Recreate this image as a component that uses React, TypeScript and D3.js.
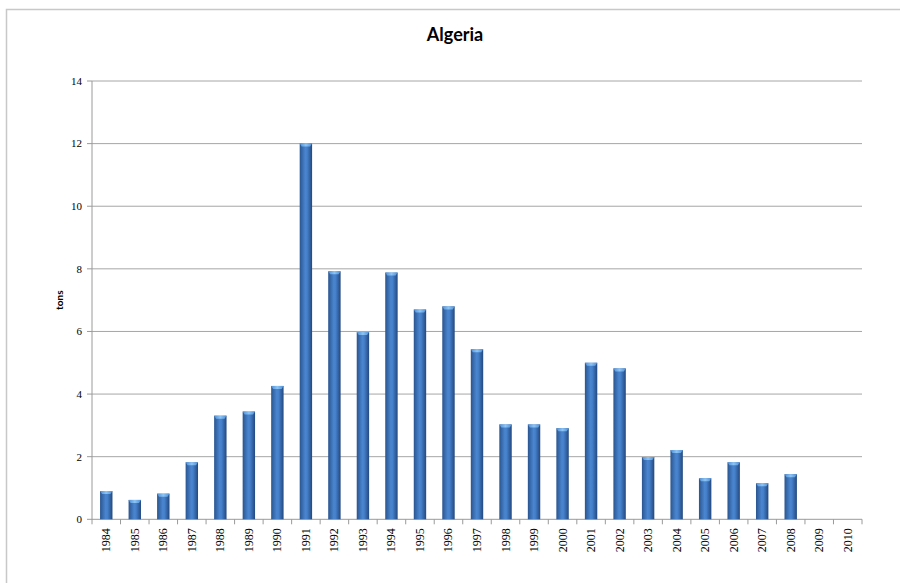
import React from "react";
import * as d3 from "d3";

const years = ["1984","1985","1986","1987","1988","1989","1990","1991","1992","1993","1994","1995","1996","1997","1998","1999","2000","2001","2002","2003","2004","2005","2006","2007","2008","2009","2010"];
const values: (number | null)[] = [0.9,0.62,0.82,1.82,3.31,3.44,4.26,12.0,7.92,5.98,7.88,6.7,6.8,5.43,3.03,3.03,2.91,5.0,4.82,1.99,2.21,1.31,1.82,1.15,1.44,null,null];
const yTicks = [0,2,4,6,8,10,12,14];
const title = "Algeria";
const yLabel = "tons";

export default function App() {
  const W = 900, H = 583;
  const left = 92, right = 862, top = 81, bottom = 519.3;
  const x = d3.scaleBand<string>().domain(years).range([left, right]).paddingInner(0.565).paddingOuter(0.2825);
  const xb = d3.scaleBand<string>().domain(years).range([left, right]);
  const y = d3.scaleLinear().domain([0, 14]).range([bottom, top]);
  const serif = "'Liberation Serif', 'DejaVu Serif', serif";
  return (
    <svg width={W} height={H} style={{ position: "absolute", left: 0, top: 0, background: "#fff" }}>
      <defs>
        <linearGradient id="barg" x1="0" x2="1" y1="0" y2="0">
          <stop offset="0" stopColor="#2a5590" />
          <stop offset="0.45" stopColor="#4a85cf" />
          <stop offset="0.6" stopColor="#4580ca" />
          <stop offset="1" stopColor="#23487e" />
        </linearGradient>
        <linearGradient id="capg" x1="0" x2="1" y1="0" y2="0">
          <stop offset="0" stopColor="#4f8fd6" />
          <stop offset="0.5" stopColor="#8cc4f4" />
          <stop offset="1" stopColor="#4f8fd6" />
        </linearGradient>
      </defs>
      <rect x={6.5} y={9.5} width={W} height={H} fill="#fff" stroke="#c8c8c8" strokeWidth={1.5} />
      <text x={455} y={41} textAnchor="middle" fontFamily="Lato, 'Open Sans', sans-serif" fontWeight="bold" fontSize={18} fill="#000">{title}</text>
      {yTicks.map((t) => (
        <g key={t}>
          {t > 0 && <line x1={left} x2={right} y1={y(t)} y2={y(t)} stroke="#a6a6a6" strokeWidth={1} />}
          <line x1={left - 5} x2={left} y1={y(t)} y2={y(t)} stroke="#9a9a9a" />
          <text x={left - 10} y={y(t)} dy="0.35em" textAnchor="end" fontFamily={serif} fontSize={11} fill="#000">{t}</text>
        </g>
      ))}
      <line x1={left} x2={left} y1={top} y2={bottom} stroke="#9a9a9a" />
      <line x1={left} x2={right} y1={bottom} y2={bottom} stroke="#9a9a9a" />
      {years.map((yr, i) => (
        <line key={"t" + yr} x1={xb(yr)!} x2={xb(yr)!} y1={bottom} y2={bottom + 5} stroke="#9a9a9a" />
      ))}
      <line x1={right} x2={right} y1={bottom} y2={bottom + 5} stroke="#9a9a9a" />
      {years.map((yr, i) => {
        const v = values[i];
        if (v == null) return null;
        const bx = x(yr)!, bw = x.bandwidth();
        const by = y(v);
        return (
          <g key={yr}>
            <rect x={bx} y={by} width={bw} height={bottom - by} fill="url(#barg)" />
            <path d={`M${bx},${by} L${bx + bw},${by} L${bx + bw - 2},${by + 3} L${bx + 2},${by + 3} Z`} fill="url(#capg)" />
          </g>
        );
      })}
      {years.map((yr) => {
        const cx = xb(yr)! + xb.bandwidth() / 2;
        return (
          <text key={"l" + yr} transform={`translate(${cx + 4},${bottom + 9}) rotate(-90)`} textAnchor="end" fontFamily={serif} fontSize={12} fill="#000">{yr}</text>
        );
      })}
      <text transform={`translate(63,${(top + bottom) / 2}) rotate(-90)`} textAnchor="middle" fontFamily="Lato, 'Open Sans', sans-serif" fontWeight="bold" fontSize={10} fill="#000">{yLabel}</text>
    </svg>
  );
}
